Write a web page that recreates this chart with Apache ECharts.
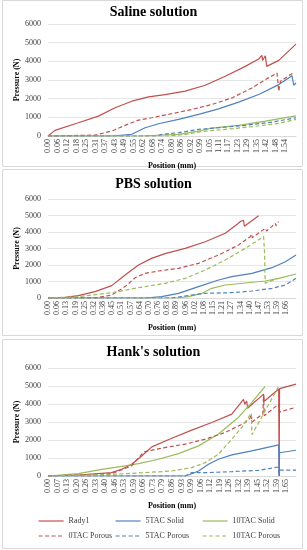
<!DOCTYPE html>
<html><head><meta charset="utf-8">
<script src="https://cdn.jsdelivr.net/npm/echarts@6/dist/echarts.min.js"></script>
<style>html,body{margin:0;padding:0;background:#fff}#c{width:307px;height:550px}</style>
</head><body><div id="c"></div>
<script>
// ---------- DATA ----------
const seriesNames = ['Rady1','5TAC Solid','10TAC Solid','0TAC Porous','5TAC Porous','10TAC Porous'];
const panelTitles = ['Saline solution','PBS solution',"Hank's solution"];

const salineTicks = ['0.00','0.06','0.12','0.18','0.25','0.31','0.37','0.43','0.49','0.55','0.62','0.68','0.74','0.80','0.86','0.92','0.99','1.05','1.11','1.17','1.23','1.29','1.35','1.42','1.48','1.54'];
const pbsTicks = ['0.00','0.06','0.13','0.19','0.25','0.32','0.38','0.45','0.51','0.57','0.64','0.70','0.76','0.83','0.89','0.96','1.02','1.08','1.15','1.21','1.27','1.34','1.40','1.47','1.53','1.59','1.66'];
const hankTicks = ['0.00','0.07','0.13','0.20','0.26','0.33','0.40','0.46','0.53','0.59','0.66','0.73','0.79','0.86','0.93','0.99','1.06','1.12','1.19','1.26','1.32','1.39','1.45','1.52','1.59','1.65'];
const tickSteps = [0.0616, 0.0637, 0.0661];
const xMax = [1.609, 1.724, 1.72];
const yTicks = [0, 1000, 2000, 3000, 4000, 5000, 6000];

// Saline
const salineRady1 = [[0,0],[0.002,90],[0.045,300],[0.197,710],[0.327,1066],[0.435,1510],[0.544,1865],[0.652,2096],[0.76,2220],[0.89,2400],[1.02,2718],[1.15,3197],[1.28,3730],[1.367,4120],[1.388,4320],[1.392,4050],[1.41,4300],[1.419,3730],[1.497,4050],[1.609,4920]];
const saline5Solid = [[0,0],[0.414,0],[0.544,90],[0.587,266],[0.63,444],[0.717,657],[0.847,888],[0.977,1155],[1.107,1456],[1.237,1812],[1.367,2220],[1.497,2753],[1.583,3233],[1.594,2718],[1.609,2840]];
const saline10Solid = [[0,0],[0.6,0],[0.847,90],[0.977,266],[1.064,420],[1.237,570],[1.41,800],[1.609,1083]];
const saline0Porous = [[0,0],[0.305,50],[0.414,266],[0.5,570],[0.587,850],[0.674,977],[0.8,1190],[0.934,1420],[1.064,1690],[1.193,2040],[1.323,2575],[1.41,3020],[1.486,3375],[1.497,2400],[1.508,2930],[1.594,3400]];
const saline5Porous = [[0,0],[0.7,0],[0.739,90],[0.847,178],[0.977,355],[1.107,444],[1.28,570],[1.454,746],[1.609,977]];
const saline10Porous = [[0,0],[0.78,0],[0.89,90],[1.02,266],[1.15,355],[1.323,500],[1.497,675],[1.609,890]];

// PBS
const pbsRady1 = [[0,0],[0.118,40],[0.21,140],[0.327,385],[0.443,750],[0.536,1390],[0.629,2000],[0.72,2400],[0.814,2690],[0.954,3010],[1.093,3410],[1.232,3920],[1.32,4500],[1.34,4650],[1.345,4550],[1.36,4700],[1.365,4350],[1.464,4990]];
const pbs5Solid = [[0,0],[0.675,0],[0.79,80],[0.907,283],[1.046,687],[1.186,1090],[1.278,1293],[1.418,1495],[1.557,1838],[1.65,2200],[1.724,2606]];
const pbs10Solid = [[0,0],[0.9,0],[0.977,80],[1.07,283],[1.139,586],[1.232,788],[1.371,909],[1.51,1030],[1.603,1190],[1.724,1455]];
const pbs0Porous = [[0,0],[0.327,0],[0.443,180],[0.536,690],[0.606,1230],[0.675,1495],[0.768,1636],[0.907,1800],[1.046,2100],[1.186,2606],[1.325,3212],[1.406,3717],[1.418,3860],[1.42,3656],[1.51,4222],[1.52,4060],[1.555,4323],[1.58,4525],[1.585,4384],[1.603,4626]];
const pbs5Porous = [[0,0],[0.86,0],[1.0,180],[1.093,283],[1.278,323],[1.418,424],[1.557,586],[1.65,788],[1.724,1192]];
const pbs10Porous = [[0,0],[0.21,80],[0.443,323],[0.629,626],[0.814,889],[0.954,1192],[1.093,1697],[1.232,2303],[1.371,3010],[1.499,3720],[1.505,2850],[1.51,900],[1.6,1200]];

// Hank's
const hankRady1 = [[0,0],[0.21,56],[0.44,186],[0.511,372],[0.58,650],[0.65,1115],[0.72,1617],[0.858,2100],[0.997,2546],[1.136,2974],[1.275,3439],[1.356,4261],[1.365,3983],[1.378,4166],[1.384,3761],[1.495,4550],[1.5,4150],[1.6,4830],[1.603,0],[1.606,4850],[1.72,5100]];
const hank5Solid = [[0,0],[0.95,0],[0.974,56],[1.044,279],[1.113,650],[1.182,929],[1.275,1171],[1.414,1394],[1.6,1730],[1.603,0],[1.606,1290],[1.72,1430]];
const hank10Solid = [[0,0],[0.21,130],[0.373,372],[0.535,560],[0.627,690],[0.766,930],[0.905,1245],[1.044,1673],[1.18,2323],[1.32,3253],[1.414,4089],[1.506,4980]];
const hank0Porous = [[0,0],[0.44,130],[0.58,558],[0.65,1208],[0.673,1357],[0.81,1580],[0.95,1766],[1.09,2045],[1.229,2416],[1.368,2970],[1.4,3200],[1.41,3420],[1.415,3000],[1.49,3450],[1.495,4500],[1.5,3350],[1.6,4000],[1.603,3550],[1.72,3820]];
const hank5Porous = [[0,0],[0.95,0],[0.997,186],[1.09,186],[1.275,242],[1.46,316],[1.6,502],[1.603,0],[1.606,330],[1.72,330]];
const hank10Porous = [[0,0],[0.44,93],[0.673,186],[0.858,279],[0.997,465],[1.09,743],[1.182,1208],[1.275,2045],[1.344,2700],[1.41,3500],[1.415,2300],[1.6,4980]];

const panelData = [
  [salineRady1, saline5Solid, saline10Solid, saline0Porous, saline5Porous, saline10Porous],
  [pbsRady1, pbs5Solid, pbs10Solid, pbs0Porous, pbs5Porous, pbs10Porous],
  [hankRady1, hank5Solid, hank10Solid, hank0Porous, hank5Porous, hank10Porous]
];
const panelTicks = [salineTicks, pbsTicks, hankTicks];

// ---------- LAYOUT / STYLE ----------
const FONT = "'Liberation Serif', 'Times New Roman', serif";
const colors = ['#C0504D','#4F81BD','#9BBB59','#C0504D','#4F81BD','#9BBB59'];
const dashed = [false,false,false,true,true,true];
const gridTops = [24, 199, 368];
const gridHeights = [112, 99, 108];
const titleTops = [0, 172, 340];
const panelRects = [[2,0,300,166],[2,169,300,166],[2,339,300,209]];

const chart = echarts.init(document.getElementById('c'), null, {renderer:'canvas'});
const grid = [], xAxis = [], yAxis = [], series = [], title = [];
for (let p = 0; p < 3; p++) {
  grid.push({left:48, width:248, top:gridTops[p], height:gridHeights[p], containLabel:false});
  title.push({text:panelTitles[p], left:'center', top:titleTops[p],
    textStyle:{fontFamily:FONT, fontWeight:'bold', fontSize:14, color:'#000'}});
  const ticks = panelTicks[p], step = tickSteps[p];
  xAxis.push({type:'value', gridIndex:p, min:0, max:xMax[p], interval:step,
    axisLine:{show:true, onZero:false, lineStyle:{color:'#d9d9d9', width:1}},
    axisTick:{show:false}, splitLine:{show:false},
    axisLabel:{rotate:90, fontFamily:FONT, fontSize:8, color:'#404040', margin:3,
      showMaxLabel:false,
      formatter:function(v){ const i = Math.round(v/step); return (Math.abs(v/step - i) < 1e-6 && i < ticks.length) ? ticks[i] : ''; }},
    name:'Position (mm)', nameLocation:'middle', nameGap:26, nameMoveOverlap:false,
    nameTextStyle:{fontFamily:FONT, fontWeight:'bold', fontSize:8, color:'#000'}});
  yAxis.push({type:'value', gridIndex:p, min:yTicks[0], max:yTicks[yTicks.length-1], interval:yTicks[1]-yTicks[0],
    axisLine:{show:false}, axisTick:{show:false},
    splitLine:{show:true, lineStyle:{color:'#e6e6e6', width:1}},
    axisLabel:{fontFamily:FONT, fontSize:8, color:'#404040', margin:7, formatter:function(v){return String(v);}},
    name:'Pressure (N)', nameLocation:'middle', nameGap:27, nameRotate:90, nameMoveOverlap:false,
    nameTextStyle:{fontFamily:FONT, fontWeight:'bold', fontSize:8, color:'#000'}});
  for (let s = 0; s < 6; s++) {
    series.push({name:seriesNames[s], type:'line', xAxisIndex:p, yAxisIndex:p,
      data:panelData[p][s], symbol:'none', showSymbol:false, animation:false, clip:true,
      lineStyle:{color:colors[s], width:1.2, type: dashed[s] ? [4,2.5] : 'solid'},
      itemStyle:{color:colors[s]}});
  }
}
const legendPos = [[38,517],[115,517],[202,517],[38,532],[115,532],[202,532]];
const legend = seriesNames.map((n,i)=>({data:[n], left:legendPos[i][0], top:legendPos[i][1],
  orient:'horizontal', itemWidth:25, itemHeight:8, itemGap:4, padding:0,
  itemStyle:{opacity:0},
  lineStyle:{width:1.2},
  textStyle:{fontFamily:FONT, fontSize:8, color:'#404040'},
  selectedMode:false}));

chart.setOption({
  animation:false,
  backgroundColor:'#fff',
  title, grid, xAxis, yAxis, series, legend,
  graphic: panelRects.map(r=>({type:'rect', silent:true, z:-1,
    shape:{x:r[0]+0.5, y:r[1]+0.5, width:r[2], height:r[3]},
    style:{fill:'none', stroke:'#d9d9d9', lineWidth:1}}))
});
</script></body></html>
